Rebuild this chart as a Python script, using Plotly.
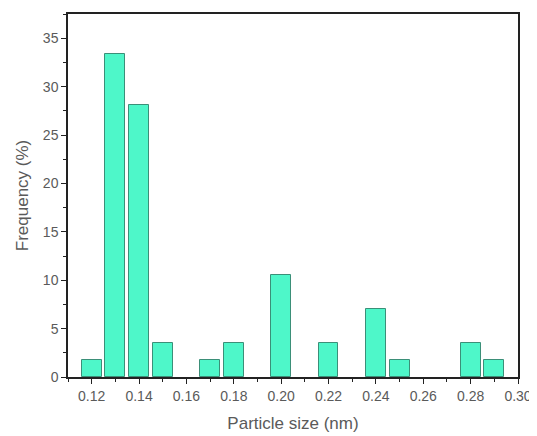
import plotly.graph_objects as go

sizes = [0.12, 0.13, 0.14, 0.15, 0.17, 0.18, 0.20, 0.22, 0.24, 0.25, 0.28, 0.29]
freq = [1.75, 33.33, 28.07, 3.51, 1.75, 3.51, 10.53, 3.51, 7.02, 1.75, 3.51, 1.75]
x_ticks = [0.12, 0.14, 0.16, 0.18, 0.20, 0.22, 0.24, 0.26, 0.28, 0.30]
y_ticks = [0, 5, 10, 15, 20, 25, 30, 35]

fig = go.Figure(go.Bar(
    x=sizes, y=freq, width=0.0084,
    marker=dict(color="#4ef7c9", line=dict(color="#3b8f78", width=1)),
))

font_col = "#5a5a5a"
# the page body has an 8px default margin, so the figure is sized/offset to compensate
fig.update_layout(
    width=529, height=428,
    margin=dict(l=60, r=19, t=6, b=59, autoexpand=False),
    plot_bgcolor="white", paper_bgcolor="white",
    font=dict(family="Liberation Sans, Arial, sans-serif", color=font_col, size=14),
    showlegend=False,
    bargap=0,
)
fig.update_xaxes(
    range=[0.11, 0.30], tickvals=x_ticks, automargin=False,
    ticktext=[f"{v:.2f}" for v in x_ticks],
    ticks="outside", ticklen=5, tickcolor="#222", tickwidth=1,
    minor=dict(dtick=0.01, ticks="outside", ticklen=3, tickcolor="#222", tick0=0.11),
    showline=True, linecolor="#222", linewidth=1.5, mirror=True,
    showgrid=False, zeroline=False,
    title=dict(text="Particle size (nm)", font=dict(size=17, color=font_col), standoff=15),
)
fig.update_yaxes(
    range=[0, 37.5], tickvals=y_ticks, automargin=False,
    ticks="outside", ticklen=5, tickcolor="#222", tickwidth=1,
    minor=dict(dtick=2.5, ticks="outside", ticklen=3, tickcolor="#222"),
    showline=True, linecolor="#222", linewidth=1.5, mirror=True,
    showgrid=False, zeroline=False,
    title=dict(text="Frequency (%)", font=dict(size=17, color=font_col), standoff=10),
)

fig.write_html("out.html")
